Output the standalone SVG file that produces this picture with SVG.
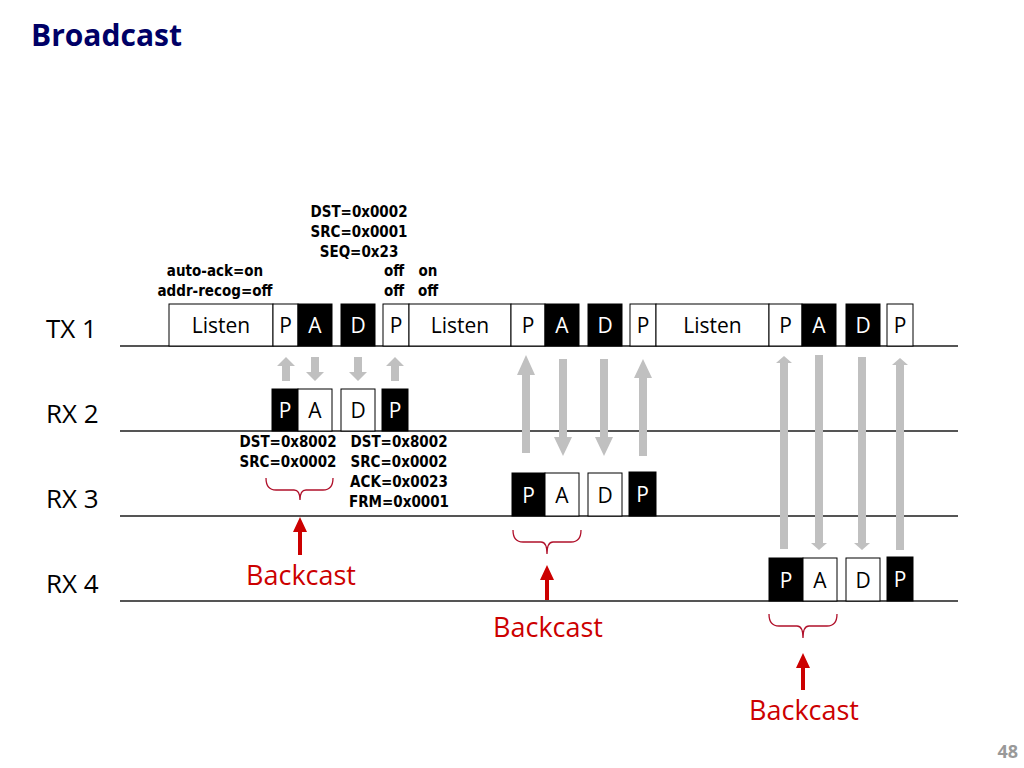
<svg xmlns="http://www.w3.org/2000/svg" width="1024" height="768" viewBox="0 0 1024 768">
<defs>
<style>
text{font-family:"Open Sans","DejaVu Sans",sans-serif}
.title{font-size:30px;font-weight:bold;fill:#000066}
.row{font-size:26px;fill:#000}
.lbl{font-size:21px;fill:#000}
.lblw{font-size:21px;fill:#fff}
.w{fill:#fff;stroke:#000;stroke-width:1}
.b{fill:#000;stroke:#000;stroke-width:1}
.small{font-family:"DejaVu Sans Condensed","DejaVu Sans",sans-serif;font-size:15px;font-weight:bold;fill:#000}
.axis{stroke:#555;stroke-width:2}
.ga{fill:#c0c0c0}
.red{fill:#cc0000}
.bc{font-size:27px;fill:#cc0000}
.brace{fill:none;stroke:#b0102a;stroke-width:1.3}
.pg{font-size:18px;font-weight:bold;fill:#999}
</style>
</defs>
<rect width="1024" height="768" fill="#fff"/>
<text class="title" x="31" y="46">Broadcast</text>
<text class="pg" x="1018" y="758" text-anchor="end">48</text>

<g id="axes">
<line class="axis" x1="120" y1="346" x2="958" y2="346"/>
<line class="axis" x1="120" y1="431" x2="958" y2="431"/>
<line class="axis" x1="120" y1="516" x2="958" y2="516"/>
<line class="axis" x1="120" y1="601" x2="958" y2="601"/>
</g>
<g id="row-labels">
<text class="row" x="46" y="338">TX 1</text>
<text class="row" x="46" y="423">RX 2</text>
<text class="row" x="46" y="508">RX 3</text>
<text class="row" x="46" y="593">RX 4</text>
</g>

<g id="tx1">
<rect class="w" x="169" y="304" width="104" height="42"/><text class="lbl" x="221" y="333" text-anchor="middle">Listen</text>
<rect class="w" x="273" y="304" width="25" height="42"/><text class="lbl" x="285.5" y="333" text-anchor="middle">P</text>
<rect class="b" x="298" y="304" width="34" height="42"/><text class="lblw" x="315" y="333" text-anchor="middle">A</text>
<rect class="b" x="341" y="304" width="34" height="42"/><text class="lblw" x="358" y="333" text-anchor="middle">D</text>
<rect class="w" x="383" y="304" width="26" height="42"/><text class="lbl" x="396" y="333" text-anchor="middle">P</text>
<rect class="w" x="409" y="304" width="102" height="42"/><text class="lbl" x="460" y="333" text-anchor="middle">Listen</text>
<rect class="w" x="511" y="304" width="34" height="42"/><text class="lbl" x="528" y="333" text-anchor="middle">P</text>
<rect class="b" x="545" y="304" width="34" height="42"/><text class="lblw" x="562" y="333" text-anchor="middle">A</text>
<rect class="b" x="588" y="304" width="34" height="42"/><text class="lblw" x="605" y="333" text-anchor="middle">D</text>
<rect class="w" x="630" y="304" width="26" height="42"/><text class="lbl" x="643" y="333" text-anchor="middle">P</text>
<rect class="w" x="656" y="304" width="113" height="42"/><text class="lbl" x="712.5" y="333" text-anchor="middle">Listen</text>
<rect class="w" x="769" y="304" width="33" height="42"/><text class="lbl" x="785.5" y="333" text-anchor="middle">P</text>
<rect class="b" x="802" y="304" width="34" height="42"/><text class="lblw" x="819" y="333" text-anchor="middle">A</text>
<rect class="b" x="846" y="304" width="34" height="42"/><text class="lblw" x="863" y="333" text-anchor="middle">D</text>
<rect class="w" x="887" y="304" width="26" height="42"/><text class="lbl" x="900" y="333" text-anchor="middle">P</text>
</g>

<g id="tx1-notes">
<text class="small" x="215" y="276" text-anchor="middle">auto-ack=on</text>
<text class="small" x="215" y="296" text-anchor="middle">addr-recog=off</text>
<text class="small" x="359" y="217" text-anchor="middle">DST=0x0002</text>
<text class="small" x="359" y="237" text-anchor="middle">SRC=0x0001</text>
<text class="small" x="359" y="257" text-anchor="middle">SEQ=0x23</text>
<text class="small" x="394" y="276" text-anchor="middle">off</text>
<text class="small" x="394" y="296" text-anchor="middle">off</text>
<text class="small" x="428" y="276" text-anchor="middle">on</text>
<text class="small" x="428" y="296" text-anchor="middle">off</text>
</g>

<g id="rx2">
<rect class="b" x="272" y="389" width="26" height="42"/><text class="lblw" x="285" y="418" text-anchor="middle">P</text>
<rect class="w" x="298" y="389" width="34" height="42"/><text class="lbl" x="315" y="418" text-anchor="middle">A</text>
<rect class="w" x="341" y="389" width="34" height="42"/><text class="lbl" x="358" y="418" text-anchor="middle">D</text>
<rect class="b" x="382" y="389" width="26" height="42"/><text class="lblw" x="395" y="418" text-anchor="middle">P</text>
</g>

<g id="rx2-notes">
<text class="small" x="288" y="447" text-anchor="middle">DST=0x8002</text>
<text class="small" x="288" y="467" text-anchor="middle">SRC=0x0002</text>
<text class="small" x="399" y="447" text-anchor="middle">DST=0x8002</text>
<text class="small" x="399" y="467" text-anchor="middle">SRC=0x0002</text>
<text class="small" x="399" y="487" text-anchor="middle">ACK=0x0023</text>
<text class="small" x="399" y="507" text-anchor="middle">FRM=0x0001</text>
</g>

<g id="rx3">
<rect class="b" x="512" y="473" width="33" height="43"/><text class="lblw" x="528.5" y="503" text-anchor="middle">P</text>
<rect class="w" x="545" y="473" width="34" height="43"/><text class="lbl" x="562" y="503" text-anchor="middle">A</text>
<rect class="w" x="588" y="473" width="34" height="43"/><text class="lbl" x="605" y="503" text-anchor="middle">D</text>
<rect class="b" x="629" y="472" width="27" height="44"/><text class="lblw" x="642.5" y="502" text-anchor="middle">P</text>
</g>

<g id="rx4">
<rect class="b" x="769" y="558" width="34" height="43"/><text class="lblw" x="786" y="588" text-anchor="middle">P</text>
<rect class="w" x="803" y="558" width="34" height="43"/><text class="lbl" x="820" y="588" text-anchor="middle">A</text>
<rect class="w" x="846" y="558" width="34" height="43"/><text class="lbl" x="863" y="588" text-anchor="middle">D</text>
<rect class="b" x="887" y="557" width="26" height="44"/><text class="lblw" x="900" y="587" text-anchor="middle">P</text>
</g>

<g id="connectors">
<polygon class="ga" points="282,381 290,381 290,366 295,366 286,357 277,366 282,366"/>
<polygon class="ga" points="311,357 319,357 319,372 324,372 315,381 306,372 311,372"/>
<polygon class="ga" points="354,357 362,357 362,372 367,372 358,381 349,372 354,372"/>
<polygon class="ga" points="391,381 399,381 399,366 404,366 395,357 386,366 391,366"/>
<polygon class="ga" points="522,453 530,453 530,375 535,375 526,355 517,375 522,375"/>
<polygon class="ga" points="559,359 567,359 567,437 572,437 563,456 554,437 559,437"/>
<polygon class="ga" points="600,359 608,359 608,437 613,437 604,456 595,437 600,437"/>
<polygon class="ga" points="639,456 647,456 647,378 652,378 643,359 634,378 639,378"/>
<polygon class="ga" points="780,549 788,549 788,363 792,363 784,356 776,363 780,363"/>
<polygon class="ga" points="815,355 823,355 823,543 827,543 819,550 811,543 815,543"/>
<polygon class="ga" points="858,357 866,357 866,543 870,543 862,550 854,543 858,543"/>
<polygon class="ga" points="896,550 904,550 904,365 908,365 900,358 892,365 896,365"/>
</g>

<g id="backcast-1">
<path class="brace" d="M266,478 Q266,490 276,490 L294,490 Q300,490 300,500 Q300,490 306,490 L323,490 Q333,490 333,478"/>
<polygon class="red" points="298,555 302,555 302,532 307,532 300,517 293,532 298,532"/>
<text class="bc" x="301" y="585" text-anchor="middle">Backcast</text>
</g>
<g id="backcast-2">
<path class="brace" d="M513,530 Q513,542 523,542 L541,542 Q547,542 547,554 Q547,542 553,542 L571,542 Q581,542 581,530"/>
<polygon class="red" points="545,600 549,600 549,580 554,580 547,565 540,580 545,580"/>
<text class="bc" x="548" y="637" text-anchor="middle">Backcast</text>
</g>
<g id="backcast-3">
<path class="brace" d="M769,614 Q769,626 779,626 L797,626 Q803,626 803,638 Q803,626 809,626 L827,626 Q837,626 837,614"/>
<polygon class="red" points="801,690 805,690 805,668 810,668 803,653 796,668 801,668"/>
<text class="bc" x="804" y="720" text-anchor="middle">Backcast</text>
</g>
</svg>
